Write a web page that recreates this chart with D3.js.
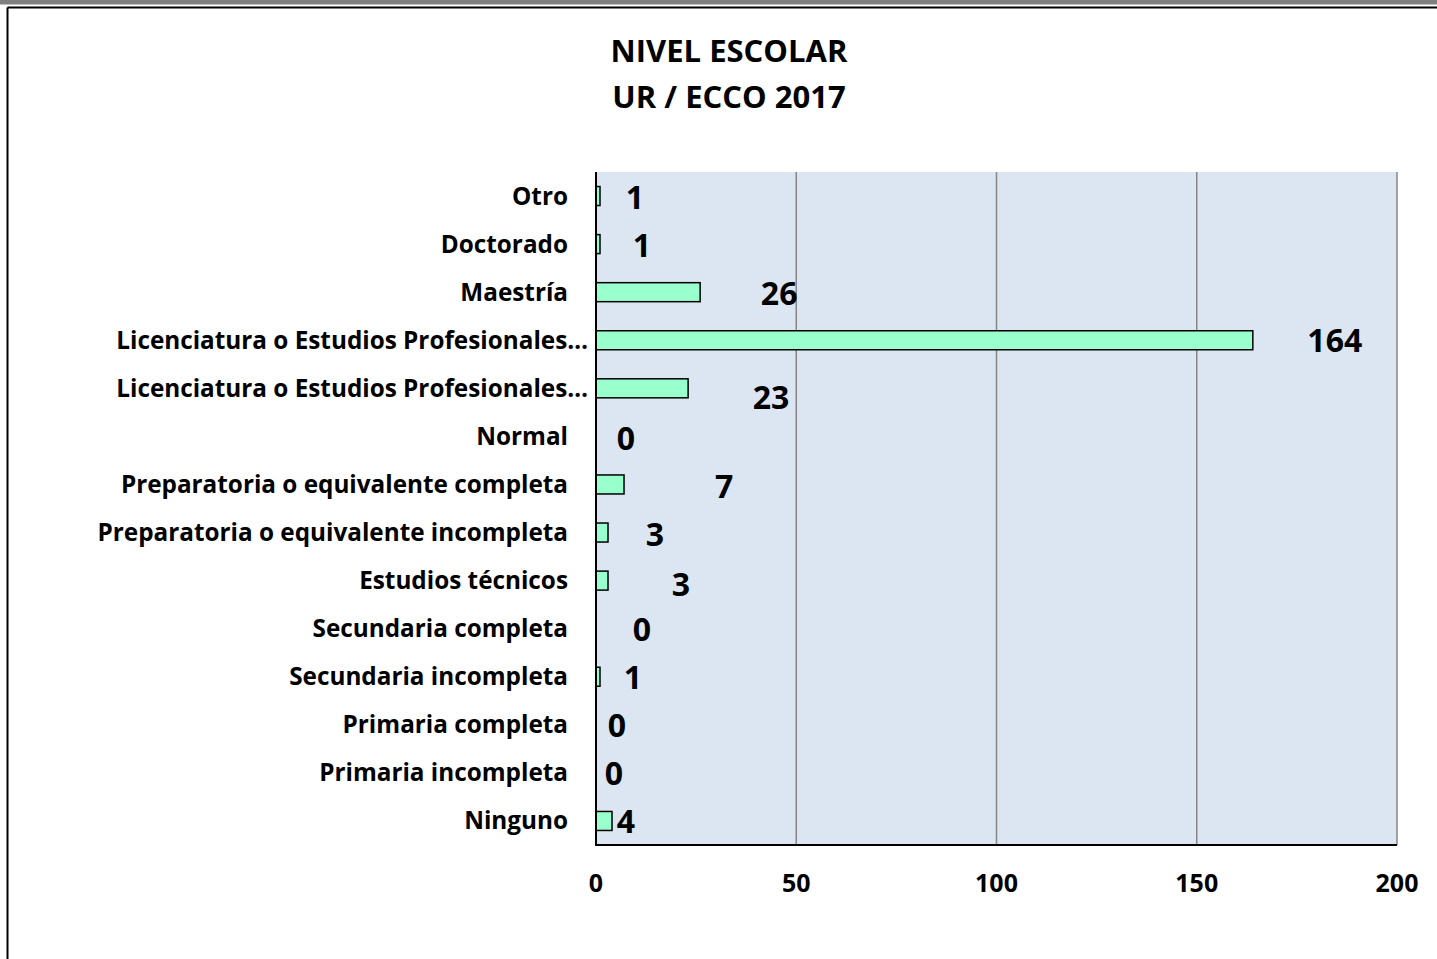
<!DOCTYPE html>
<html>
<head>
<meta charset="utf-8">
<script src="https://cdn.jsdelivr.net/npm/d3@7"></script>
<style>
  body { margin: 0; background: #fff; }
  svg { display: block; }
  text { font-family: "Open Sans", Lato, sans-serif; font-weight: bold; fill: #000; }
</style>
</head>
<body>
<svg></svg>
<script>
const categories = [
  'Otro',
  'Doctorado',
  'Maestría',
  'Licenciatura o Estudios Profesionales…',
  'Licenciatura o Estudios Profesionales…',
  'Normal',
  'Preparatoria o equivalente completa',
  'Preparatoria o equivalente incompleta',
  'Estudios técnicos',
  'Secundaria completa',
  'Secundaria incompleta',
  'Primaria completa',
  'Primaria incompleta',
  'Ninguno'
];
const values = [1, 1, 26, 164, 23, 0, 7, 3, 3, 0, 1, 0, 0, 4];
const xTicks = [0, 50, 100, 150, 200];
const titleLines = ['NIVEL ESCOLAR', 'UR / ECCO 2017'];
// manual nudges of the value labels (px from bar end / band centre)
const labelDx = [35, 42, 79, 82, 83, 30, 100, 47, 73, 46, 33, 21, 18, 14];
const labelDy = [1, 1, 1, 0, 9, 2, 2, 2, 4, 1, 1, 1, 1, 1];

const width = 1437;
const height = 959;
const plot = { left: 596, right: 1397, top: 172, bottom: 845 };

const svg = d3.select('svg')
  .attr('width', width)
  .attr('height', height);

// window chrome
svg.append('rect').attr('x', 0).attr('y', 0).attr('width', width).attr('height', 4.5).attr('fill', '#808080');
svg.append('line').attr('x1', 7.5).attr('x2', width).attr('y1', 7.5).attr('y2', 7.5).attr('stroke', '#000').attr('stroke-width', 2);
svg.append('line').attr('x1', 7.5).attr('x2', 7.5).attr('y1', 7.5).attr('y2', height).attr('stroke', '#000').attr('stroke-width', 2);

const x = d3.scaleLinear().domain([0, 200]).range([plot.left, plot.right]);
const y = d3.scaleBand().domain(d3.range(categories.length)).range([plot.top, plot.bottom]);

// title
svg.selectAll('.title')
  .data(titleLines)
  .enter()
  .append('text')
  .attr('class', 'title')
  .attr('x', 729)
  .attr('y', (d, i) => 62 + i * 46)
  .attr('text-anchor', 'middle')
  .attr('font-size', 31)
  .text(d => d);

// plot background
svg.append('rect')
  .attr('x', plot.left)
  .attr('y', plot.top)
  .attr('width', plot.right - plot.left)
  .attr('height', plot.bottom - plot.top)
  .attr('fill', '#dce6f2');

// gridlines
svg.selectAll('.grid')
  .data(xTicks.slice(1))
  .enter()
  .append('line')
  .attr('class', 'grid')
  .attr('x1', d => x(d))
  .attr('x2', d => x(d))
  .attr('y1', plot.top)
  .attr('y2', plot.bottom)
  .attr('stroke', '#868686')
  .attr('stroke-width', 1.5);

// bars
const barH = 19;
svg.selectAll('.bar')
  .data(values.map((v, i) => ({ v, i })).filter(d => d.v > 0))
  .enter()
  .append('rect')
  .attr('class', 'bar')
  .attr('x', x(0))
  .attr('y', d => y(d.i) + y.bandwidth() / 2 - barH / 2)
  .attr('width', d => x(d.v) - x(0))
  .attr('height', barH)
  .attr('fill', '#99ffcc')
  .attr('stroke', '#000')
  .attr('stroke-width', 1.5);

// axes lines
svg.append('line')
  .attr('x1', plot.left).attr('x2', plot.left)
  .attr('y1', plot.top).attr('y2', plot.bottom + 1)
  .attr('stroke', '#000').attr('stroke-width', 2);
svg.append('line')
  .attr('x1', plot.left).attr('x2', plot.right)
  .attr('y1', plot.bottom).attr('y2', plot.bottom)
  .attr('stroke', '#000').attr('stroke-width', 2);

// category labels
svg.selectAll('.cat')
  .data(categories)
  .enter()
  .append('text')
  .attr('class', 'cat')
  .attr('x', d => d.endsWith('…') ? 588 : 568)
  .attr('y', (d, i) => y(i) + y.bandwidth() / 2)
  .attr('dy', '0.35em')
  .attr('text-anchor', 'end')
  .attr('font-size', 24.3)
  .text(d => d);

// value labels
svg.selectAll('.val')
  .data(values)
  .enter()
  .append('text')
  .attr('class', 'val')
  .attr('x', (d, i) => x(d) + labelDx[i])
  .attr('y', (d, i) => y(i) + y.bandwidth() / 2 + labelDy[i])
  .attr('dy', '0.36em')
  .attr('text-anchor', 'middle')
  .attr('font-size', 32)
  .text(d => d);

// x tick labels
svg.selectAll('.tick')
  .data(xTicks)
  .enter()
  .append('text')
  .attr('class', 'tick')
  .attr('x', d => x(d))
  .attr('y', 883)
  .attr('dy', '0.35em')
  .attr('text-anchor', 'middle')
  .attr('font-size', 25)
  .text(d => d);
</script>
</body>
</html>
